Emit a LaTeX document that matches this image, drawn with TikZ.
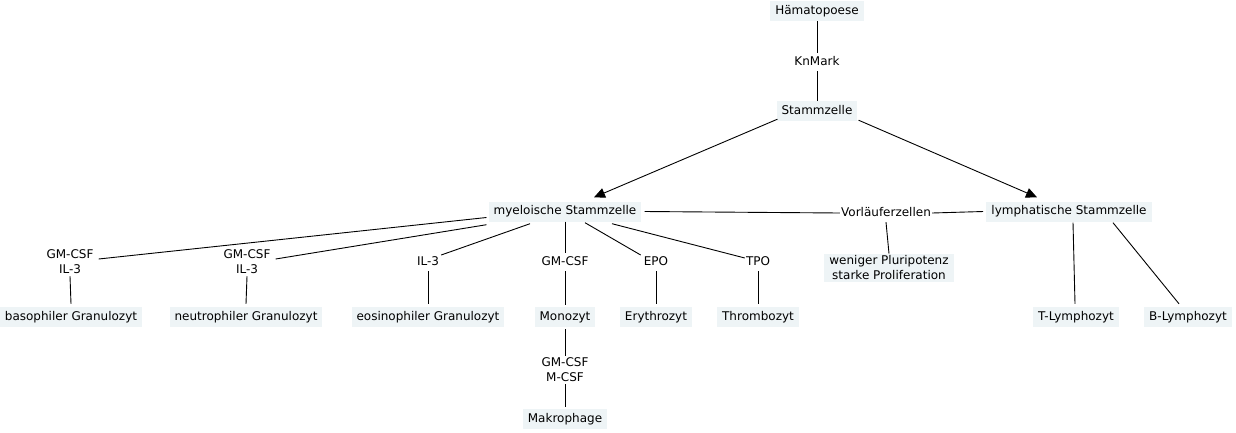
\documentclass[tikz,border=0pt]{standalone}
\usepackage{fontspec}
\setmainfont{DejaVu Sans}
\usetikzlibrary{arrows.meta}
\definecolor{boxfill}{RGB}{238,244,246}
\begin{document}
\begin{tikzpicture}[x=1pt,y=-1pt,
  every node/.style={font=\fontsize{12}{15}\selectfont, text=black},
  box/.style={fill=boxfill, inner xsep=5pt, inner ysep=4pt, text height=9pt, text depth=3pt},
  boxtwo/.style={fill=boxfill, inner xsep=5pt, inner ysep=2pt, align=center},
  lbl/.style={inner xsep=1pt, inner ysep=3pt, text height=9pt, text depth=3pt},
  lbltwo/.style={inner xsep=1pt, inner ysep=2pt, align=center},
  con/.style={line width=0.9pt, draw=black},
  arr/.style={con, -{Triangle[length=11pt,width=10pt]}}]
\useasboundingbox (0,0) rectangle (1236,432);

% top column
\node[box] (ham) at (817,11) {Hämatopoese};
\node[lbl] (kn) at (817,62) {KnMark};
\node[box] (stz) at (817,111) {Stammzelle};

% second level
\node[box] (my) at (565,211.5) {myeloische Stammzelle};
\node[lbl] (vor) at (886,213) {Vorläuferzellen};
\node[box] (ly) at (1069,211.5) {lymphatische Stammzelle};
\node[boxtwo] (wen) at (889,268) {weniger Pluripotenz\\starke Proliferation};

% labels
\node[lbltwo] (gma) at (70,262) {GM-CSF\\IL-3};
\node[lbltwo] (gmb) at (247,262) {GM-CSF\\IL-3};
\node[lbl] (il) at (428,262) {IL-3};
\node[lbl] (gmm) at (565,262) {GM-CSF};
\node[lbl] (epo) at (656,262) {EPO};
\node[lbl] (tpo) at (758,262) {TPO};

% bottom row
\node[box] (baso) at (71,317) {basophiler Granulozyt};
\node[box] (neu) at (246,317) {neutrophiler Granulozyt};
\node[box] (eos) at (428,317) {eosinophiler Granulozyt};
\node[box] (mono) at (565,317) {Monozyt};
\node[box] (ery) at (656,317) {Erythrozyt};
\node[box] (thr) at (758,317) {Thrombozyt};
\node[box] (tly) at (1076,317) {T-Lymphozyt};
\node[box] (bly) at (1188,317) {B-Lymphozyt};

\node[lbltwo] (gmc) at (565,370) {GM-CSF\\M-CSF};
\node[box] (mak) at (565,419) {Makrophage};

% connectors
\draw[con] (ham.south) -- (kn.north);
\draw[con] (kn.south) -- (stz.north);
\draw[arr] ([shift={(1,-2)}]stz.south west) -- ([shift={(29,-4)}]my.north);
\draw[arr] ([shift={(1,-1)}]stz.south east) -- ([shift={(-32,-4)}]ly.north);
\draw[con] ([xshift=3pt]my.east) -- (vor.west);
\draw[con] (vor.east) -- ([xshift=-3pt]ly.west);
\draw[con] (vor.south) -- (wen.north);

\draw[con] ([shift={(-2,6)}]my.west) -- ([shift={(4,-3)}]gma.east);
\draw[con] ([shift={(-2,3)}]my.south west) -- ([shift={(4,-3)}]gmb.east);
\draw[con] ([shift={(-35,2)}]my.south) -- ([shift={(1,-7)}]il.east);
\draw[con] (my.south) -- (gmm.north);
\draw[con] ([shift={(20,1)}]my.south) -- ([shift={(-2,-7)}]epo.west);
\draw[con] ([shift={(47,2)}]my.south) -- ([shift={(0,-4)}]tpo.west);

\draw[con] (gma.south) -- ([yshift=3pt]baso.north);
\draw[con] (gmb.south) -- ([yshift=3pt]neu.north);
\draw[con] (il.south) -- ([yshift=3pt]eos.north);
\draw[con] (gmm.south) -- ([yshift=2pt]mono.north);
\draw[con] (epo.south) -- ([yshift=3pt]ery.north);
\draw[con] (tpo.south) -- ([yshift=3pt]thr.north);
\draw[con] ([shift={(4,1)}]ly.south) -- ([shift={(-1,-3)}]tly.north);
\draw[con] ([shift={(44,1)}]ly.south) -- ([shift={(-9,-3)}]bly.north);

\draw[con] ([yshift=-2pt]mono.south) -- (gmc.north);
\draw[con] (gmc.south) -- ([yshift=2pt]mak.north);
\end{tikzpicture}
\end{document}
